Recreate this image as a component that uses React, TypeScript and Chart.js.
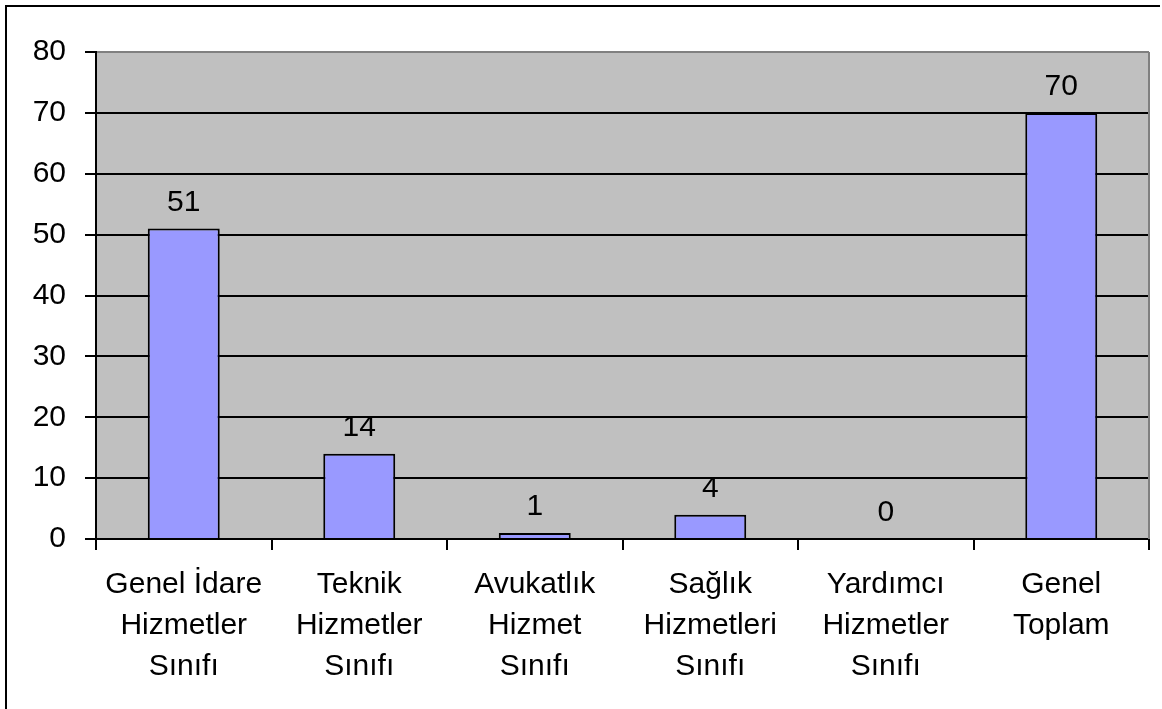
import React, { useEffect, useRef } from "react";
import { Chart, registerables } from "chart.js";

Chart.register(...registerables);

const categories: string[][] = [
  ["Genel İdare", "Hizmetler", "Sınıfı"],
  ["Teknik", "Hizmetler", "Sınıfı"],
  ["Avukatlık", "Hizmet", "Sınıfı"],
  ["Sağlık", "Hizmetleri", "Sınıfı"],
  ["Yardımcı", "Hizmetler", "Sınıfı"],
  ["Genel", "Toplam"],
];
const values: number[] = [51, 14, 1, 4, 0, 70];
const yMin = 0;
const yMax = 80;
const yStep = 10;

const FONT = "'Liberation Sans', Arial, sans-serif";

const decorPlugin = {
  id: "decor",
  beforeDraw(chart: any) {
    const { ctx, chartArea } = chart;
    ctx.save();
    ctx.fillStyle = "#ffffff";
    ctx.fillRect(0, 0, chart.width, chart.height);
    ctx.fillStyle = "#C0C0C0";
    ctx.fillRect(chartArea.left, chartArea.top, chartArea.right - chartArea.left, chartArea.bottom - chartArea.top);
    // outer frame (top and left visible)
    ctx.strokeStyle = "#000000";
    ctx.lineWidth = 2;
    ctx.beginPath();
    ctx.moveTo(6, chart.height);
    ctx.lineTo(6, 6);
    ctx.lineTo(1160, 6);
    ctx.stroke();
    ctx.restore();
  },
  afterDatasetsDraw(chart: any) {
    const { ctx, chartArea } = chart;
    ctx.save();
    // right border of plot area
    ctx.strokeStyle = "#808080";
    ctx.lineWidth = 2;
    ctx.beginPath();
    ctx.moveTo(chartArea.right, chartArea.top);
    ctx.lineTo(chartArea.right, chartArea.bottom);
    ctx.stroke();
    // value labels
    const meta = chart.getDatasetMeta(0);
    ctx.fillStyle = "#000000";
    ctx.font = `30px ${FONT}`;
    ctx.textAlign = "center";
    ctx.textBaseline = "alphabetic";
    meta.data.forEach((bar: any, i: number) => {
      const v = chart.data.datasets[0].data[i];
      ctx.fillText(String(v), bar.x, bar.y - 18);
    });
    ctx.restore();
  },
};

export default function App() {
  const ref = useRef<HTMLCanvasElement>(null);
  useEffect(() => {
    document.body.style.margin = "0";
    const canvas = ref.current!;
    const chart = new Chart(canvas, {
      type: "bar",
      data: {
        labels: categories,
        datasets: [
          {
            data: values,
            backgroundColor: "#9999FF",
            borderColor: "#000000",
            borderWidth: 2,
            barPercentage: 0.41,
            categoryPercentage: 1,
          },
        ],
      },
      plugins: [decorPlugin],
      options: {
        animation: false,
        responsive: false,
        maintainAspectRatio: false,
        layout: { padding: { left: 0, top: 52, right: 13, bottom: 0 } },
        plugins: {
          legend: { display: false },
          tooltip: { enabled: false },
          title: { display: false },
        },
        scales: {
          x: {
            offset: true,
            grid: {
              offset: true,
              drawOnChartArea: false,
              drawTicks: true,
              tickLength: 11,
              color: "#000000",
              lineWidth: 2,
            },
            border: { color: "#000000", width: 2 },
            ticks: {
              color: "#000000",
              font: { family: FONT, size: 30, lineHeight: 41 / 30 },
              padding: 14,
              maxRotation: 0,
              autoSkip: false,
            },
            afterFit(scale: any) {
              scale.height = 170;
            },
          },
          y: {
            min: yMin,
            max: yMax,
            ticks: {
              stepSize: yStep,
              color: "#000000",
              font: { family: FONT, size: 30 },
              padding: 19,
            },
            grid: {
              color: (c: any) => (c.tick && c.tick.value === yMax ? "#808080" : "#000000"),
              lineWidth: 2,
              tickLength: 11,
              tickColor: "#000000",
            },
            border: { color: "#000000", width: 2 },
            afterFit(scale: any) {
              scale.width = 96;
            },
          },
        },
      },
    });
    return () => chart.destroy();
  }, []);
  return (
    <div style={{ width: 1162, height: 709 }}>
      <canvas ref={ref} width={1162} height={709} style={{ display: "block" }} />
    </div>
  );
}
